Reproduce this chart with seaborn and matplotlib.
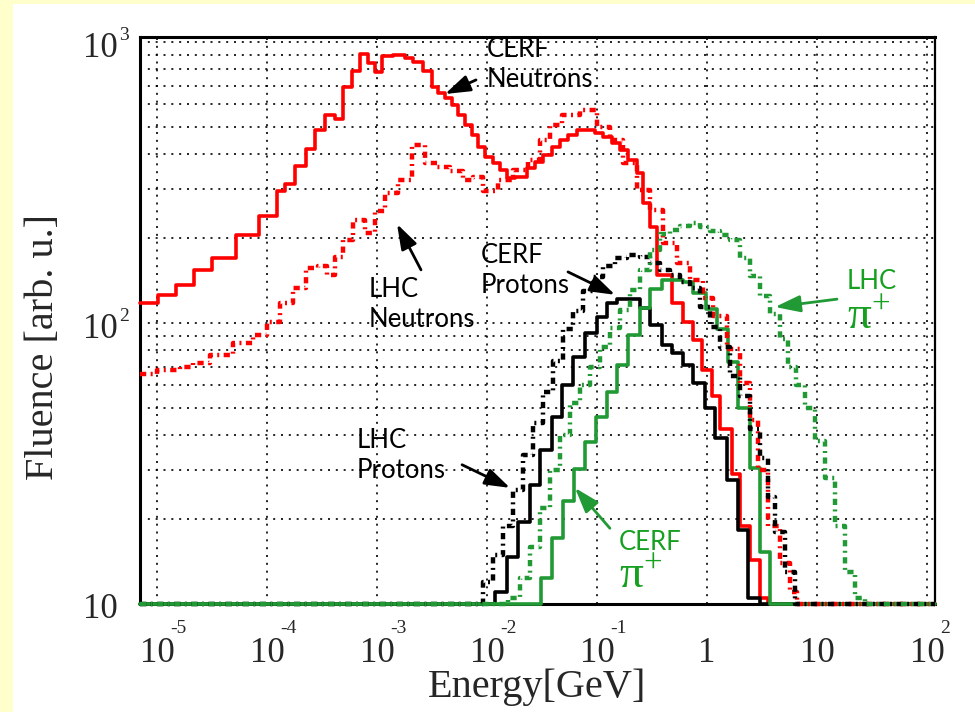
import numpy as np
import pandas as pd
import matplotlib
matplotlib.use('Agg')
import matplotlib.pyplot as plt
import seaborn as sns
from matplotlib.patches import Rectangle

# bin edges are log10(E / GeV), values are fluence [arb. u.]
cerf_n_edges = [-5.155, -4.994, -4.830, -4.661, -4.503, -4.285, -4.073, -3.912, -3.836, -3.745,
                -3.648, -3.564, -3.473, -3.382, -3.306, -3.227, -3.155, -3.082, -3.018, -2.955,
                -2.855, -2.745, -2.673, -2.582, -2.503, -2.443, -2.382, -2.321, -2.261, -2.200,
                -2.139, -2.079, -2.018, -1.943, -1.882, -1.821, -1.745, -1.639, -1.564, -1.488,
                -1.412, -1.336, -1.261, -1.185, -1.018, -0.943, -0.866, -0.791, -0.715, -0.639,
                -0.579, -0.518, -0.457, -0.321, -0.218, -0.127, -0.048, 0.043, 0.118, 0.225,
                0.300, 0.391, 0.482, 0.555]
cerf_n_vals = [118, 126, 136, 155, 170, 206, 241, 296, 313, 362,
               415, 486, 550, 532, 690, 791, 906, 842, 783, 891,
               899, 875, 851, 790, 693, 656, 631, 597, 550, 507,
               467, 424, 391, 370, 350, 327, 332, 356, 375, 396,
               424, 448, 467, 486, 474, 461, 436, 413, 381, 342,
               267, 220, 148, 118, 101, 87, 68, 55, 42, 29,
               19, 14.4, 10.5]

lhc_n_edges = [-5.155, -5.003, -4.791, -4.673, -4.518, -4.309, -4.127, -4.000, -3.882, -3.764,
               -3.645, -3.536, -3.455, -3.382, -3.309, -3.218, -3.109, -3.018, -2.927, -2.809,
               -2.682, -2.564, -2.455, -2.336, -2.218, -2.127, -2.036, -1.900, -1.764, -1.627,
               -1.518, -1.427, -1.318, -1.155, -1.000, -0.882, -0.764, -0.636, -0.518, -0.400,
               -0.273, -0.155, -0.036, 0.055, 0.182, 0.300, 0.391, 0.464, 0.555, 0.664,
               0.755, 0.818]
lhc_n_vals = [66, 68, 70, 72, 77, 85, 91, 101, 118, 133,
              157, 160, 148, 172, 197, 233, 209, 250, 290, 323,
              430, 371, 359, 347, 323, 330, 294, 323, 350, 380,
              448, 507, 550, 572, 500, 448, 371, 297, 252, 193,
              164, 142, 123, 106, 81, 61, 45, 30, 19, 14,
              11]

cerf_p_edges = [-1.927, -1.818, -1.718, -1.609, -1.518, -1.409, -1.318, -1.218, -1.109, -1.000,
                -0.909, -0.818, -0.609, -0.518, -0.409, -0.318, -0.218, -0.127, -0.018, 0.073,
                0.182, 0.282, 0.373, 0.482]
cerf_p_vals = [11.0, 14.7, 19.6, 26.5, 35.3, 46.4, 60, 76, 92, 105,
               117.5, 122, 113, 98.4, 83.6, 78, 71, 61, 50, 39,
               27.6, 18.3, 10.5]

lhc_p_edges = [-2.036, -1.945, -1.855, -1.764, -1.673, -1.582, -1.491, -1.400, -1.309, -1.218,
               -1.127, -1.036, -0.945, -0.836, -0.727, -0.609, -0.518, -0.427, -0.336, -0.245,
               -0.155, -0.064, 0.027, 0.118, 0.209, 0.300, 0.391, 0.482, 0.555, 0.618,
               0.709, 0.800]
lhc_p_vals = [12, 15, 19, 25.5, 34, 44, 57, 73, 95, 110,
              130, 146, 160, 170, 175, 172, 163, 155, 148, 140,
              133, 114, 97, 82, 65, 55, 42, 33, 24, 18,
              13]

cerf_pi_edges = [-1.509, -1.409, -1.309, -1.209, -1.109, -1.009, -0.909, -0.818, -0.718, -0.609,
                 -0.518, -0.409, -0.218, -0.127, -0.009, 0.091, 0.191, 0.282, 0.391, 0.482,
                 0.573]
cerf_pi_vals = [12.4, 17.2, 23.3, 30.3, 37.8, 46.4, 57, 71, 90.6, 113,
                132, 142, 140, 128, 112, 95, 72.7, 49.8, 30.5, 15.3]

lhc_pi_edges = [-1.809, -1.700, -1.609, -1.518, -1.427, -1.336, -1.245, -1.155, -1.064, -0.973,
                -0.882, -0.791, -0.700, -0.609, -0.518, -0.427, -0.336, -0.245, -0.155, -0.064,
                0.027, 0.118, 0.209, 0.300, 0.391, 0.482, 0.573, 0.664, 0.736, 0.809,
                0.891, 0.982, 1.073, 1.164, 1.255, 1.345, 1.436]
lhc_pi_vals = [10.5, 12.4, 16, 22, 30, 40, 52, 60, 70, 82,
               96, 111, 131, 155, 182, 208, 215, 222, 227, 220,
               212, 206, 198, 170, 147, 125, 108, 88, 70, 60,
               50, 38, 28, 19, 13, 10.5]

LOG_EMIN, LOG_EMAX = -5.155, 2.073
F_MIN, F_MAX = 10, 1042

RED = '#ff0000'
GREEN = '#219a35'
TEXT_GREEN = '#16a020'
DOTDASH = (0, (1.4, 1.0, 0.45, 1.0))


def step_frame(edges, vals):
    """ build x/y points for a steps-post histogram padded with the floor value """
    x = list(edges)
    y = list(vals) + [F_MIN]
    if edges[0] > LOG_EMIN + 1e-6:
        x = [LOG_EMIN] + x
        y = [F_MIN] + y
    x = x + [LOG_EMAX]
    y = y + [F_MIN]
    return pd.DataFrame({'E': 10.0 ** np.array(x), 'F': y})


sns.set_style('white')
plt.rcParams['font.family'] = ['Liberation Serif', 'DejaVu Serif']
plt.rcParams['mathtext.fontset'] = 'custom'
plt.rcParams['mathtext.rm'] = 'Liberation Serif'
plt.rcParams['mathtext.it'] = 'Liberation Serif'

fig = plt.figure(figsize=(9.75, 7.12), dpi=100, facecolor='white')
# yellow slide border (left and top)
fig.patches.append(Rectangle((0, 0), 13 / 975, 1, transform=fig.transFigure,
                             facecolor='#ffffcc', edgecolor='none', zorder=-10))
fig.patches.append(Rectangle((0, 1 - 4 / 712), 1, 4 / 712, transform=fig.transFigure,
                             facecolor='#ffffcc', edgecolor='none', zorder=-10))

ax = fig.add_axes([140 / 975, 1 - 604 / 712, 795 / 975, 567 / 712])
ax.set_xscale('log')
ax.set_yscale('log')

series = [
    (cerf_n_edges, cerf_n_vals, RED, '-', 2.6),
    (cerf_p_edges, cerf_p_vals, 'black', '-', 2.6),
    (cerf_pi_edges, cerf_pi_vals, GREEN, '-', 2.6),
    (lhc_n_edges, lhc_n_vals, RED, DOTDASH, 3.2),
    (lhc_p_edges, lhc_p_vals, 'black', DOTDASH, 3.2),
    (lhc_pi_edges, lhc_pi_vals, GREEN, DOTDASH, 3.2),
]
for edges, vals, col, ls, lw in series:
    df = step_frame(edges, vals)
    sns.lineplot(data=df, x='E', y='F', ax=ax, drawstyle='steps-post', estimator=None,
                 sort=False, color=col, linestyle=ls, lw=lw, clip_on=False)

ax.set_xlim(10 ** LOG_EMIN, 10 ** LOG_EMAX)
ax.set_ylim(F_MIN, F_MAX)

# grid: dotted, x only at decades, y at all minor values
ax.set_axisbelow(True)
ax.grid(True, which='major', axis='x', color='black', linestyle=(0, (1.2, 3.5)), lw=1.2)
ax.grid(True, which='both', axis='y', color='black', linestyle=(0, (1.2, 3.5)), lw=1.2)

ax.tick_params(which='both', direction='in', top=False, right=False,
               labelbottom=False, labelleft=False, color='black')
ax.tick_params(which='major', length=9, width=1.5)
ax.tick_params(axis='y', which='minor', length=8, width=1.5)
ax.tick_params(axis='x', which='minor', length=5, width=1.2)
for side in ['left', 'bottom', 'top']:
    ax.spines[side].set_linewidth(2.2)
ax.spines['right'].set_linewidth(1.6)
for sp in ax.spines.values():
    sp.set_color('black')
    sp.set_zorder(1.5)

# tick labels written by hand so the exponents sit high like the original
x_bases = ['10', '10', '10', '10', '10', '1', '10', '10']
x_exps = ['-5', '-4', '-3', '-2', '-1', '', '', '2']
for e, base, ex in zip(range(-5, 3), x_bases, x_exps):
    ax.annotate(base, xy=(10.0 ** e, 0), xycoords=('data', 'axes fraction'),
                xytext=(0, -58), textcoords='offset pixels', ha='center', va='baseline',
                fontsize=25, annotation_clip=False)
    if ex:
        ax.annotate(ex, xy=(10.0 ** e, 0), xycoords=('data', 'axes fraction'),
                    xytext=(13, -29), textcoords='offset pixels', ha='left', va='baseline',
                    fontsize=14, annotation_clip=False)

y_ticks = [10, 100, 1000]
y_exps = ['', '2', '3']
for yv, ex in zip(y_ticks, y_exps):
    ax.annotate('10', xy=(0, yv), xycoords=('axes fraction', 'data'),
                xytext=(-22, -6), textcoords='offset pixels', ha='right', va='center',
                fontsize=25, annotation_clip=False)
    if ex:
        ax.annotate(ex, xy=(0, yv), xycoords=('axes fraction', 'data'),
                    xytext=(-21, 2), textcoords='offset pixels', ha='left', va='baseline',
                    fontsize=14, annotation_clip=False)

ax.set_xlabel('Energy[GeV]', fontsize=29)
ax.set_ylabel('Fluence [arb. u.]', fontsize=29)
ax.xaxis.set_label_coords(0.5, -0.113)
ax.yaxis.set_label_coords(-0.098, 0.453)

# annotations
lab_font = dict(family=['Lato', 'DejaVu Sans'], fontsize=18.5, linespacing=1.25,
                ha='left', va='top', clip_on=False)
ax.text(1.0e-2, 1042, 'CERF\nNeutrons', color='black', **lab_font)
ax.text(8.45e-4, 146, 'LHC\nNeutrons', color='black', **lab_font)
ax.text(8.82e-3, 193, 'CERF\nProtons', color='black', **lab_font)
ax.text(6.58e-4, 42.3, 'LHC\nProtons', color='black', **lab_font)
ax.text(0.158, 18.3, 'CERF', color=TEXT_GREEN, **lab_font)
ax.text(18.7, 155.6, 'LHC', color=TEXT_GREEN, **lab_font)
ax.text(0.158, 14.8, r'$\mathrm{\pi}^{+}$', color=TEXT_GREEN, fontsize=34, ha='left', va='top')
ax.text(18.9, 123.7, r'$\mathrm{\pi}^{+}$', color=TEXT_GREEN, fontsize=34, ha='left', va='top')

arrows = [
    ((7.94e-3, 733), (4.15e-3, 653), 'black'),
    ((2.51e-3, 154.6), (1.52e-3, 225), 'black'),
    ((0.0545, 152), (0.146, 126), 'black'),
    ((5.93e-3, 31.3), (0.0162, 25.9), 'black'),
    ((0.131, 18.6), (0.063, 25.9), GREEN),
    ((15.2, 121.6), (4.15, 114), GREEN),
]
for tail, head, col in arrows:
    ax.annotate('', xy=head, xytext=tail,
                arrowprops=dict(arrowstyle='-|>,head_length=0.9,head_width=0.3', color=col,
                                lw=2, shrinkA=0, shrinkB=0, mutation_scale=17))

fig.savefig('out.png', dpi=100, facecolor=fig.get_facecolor())
